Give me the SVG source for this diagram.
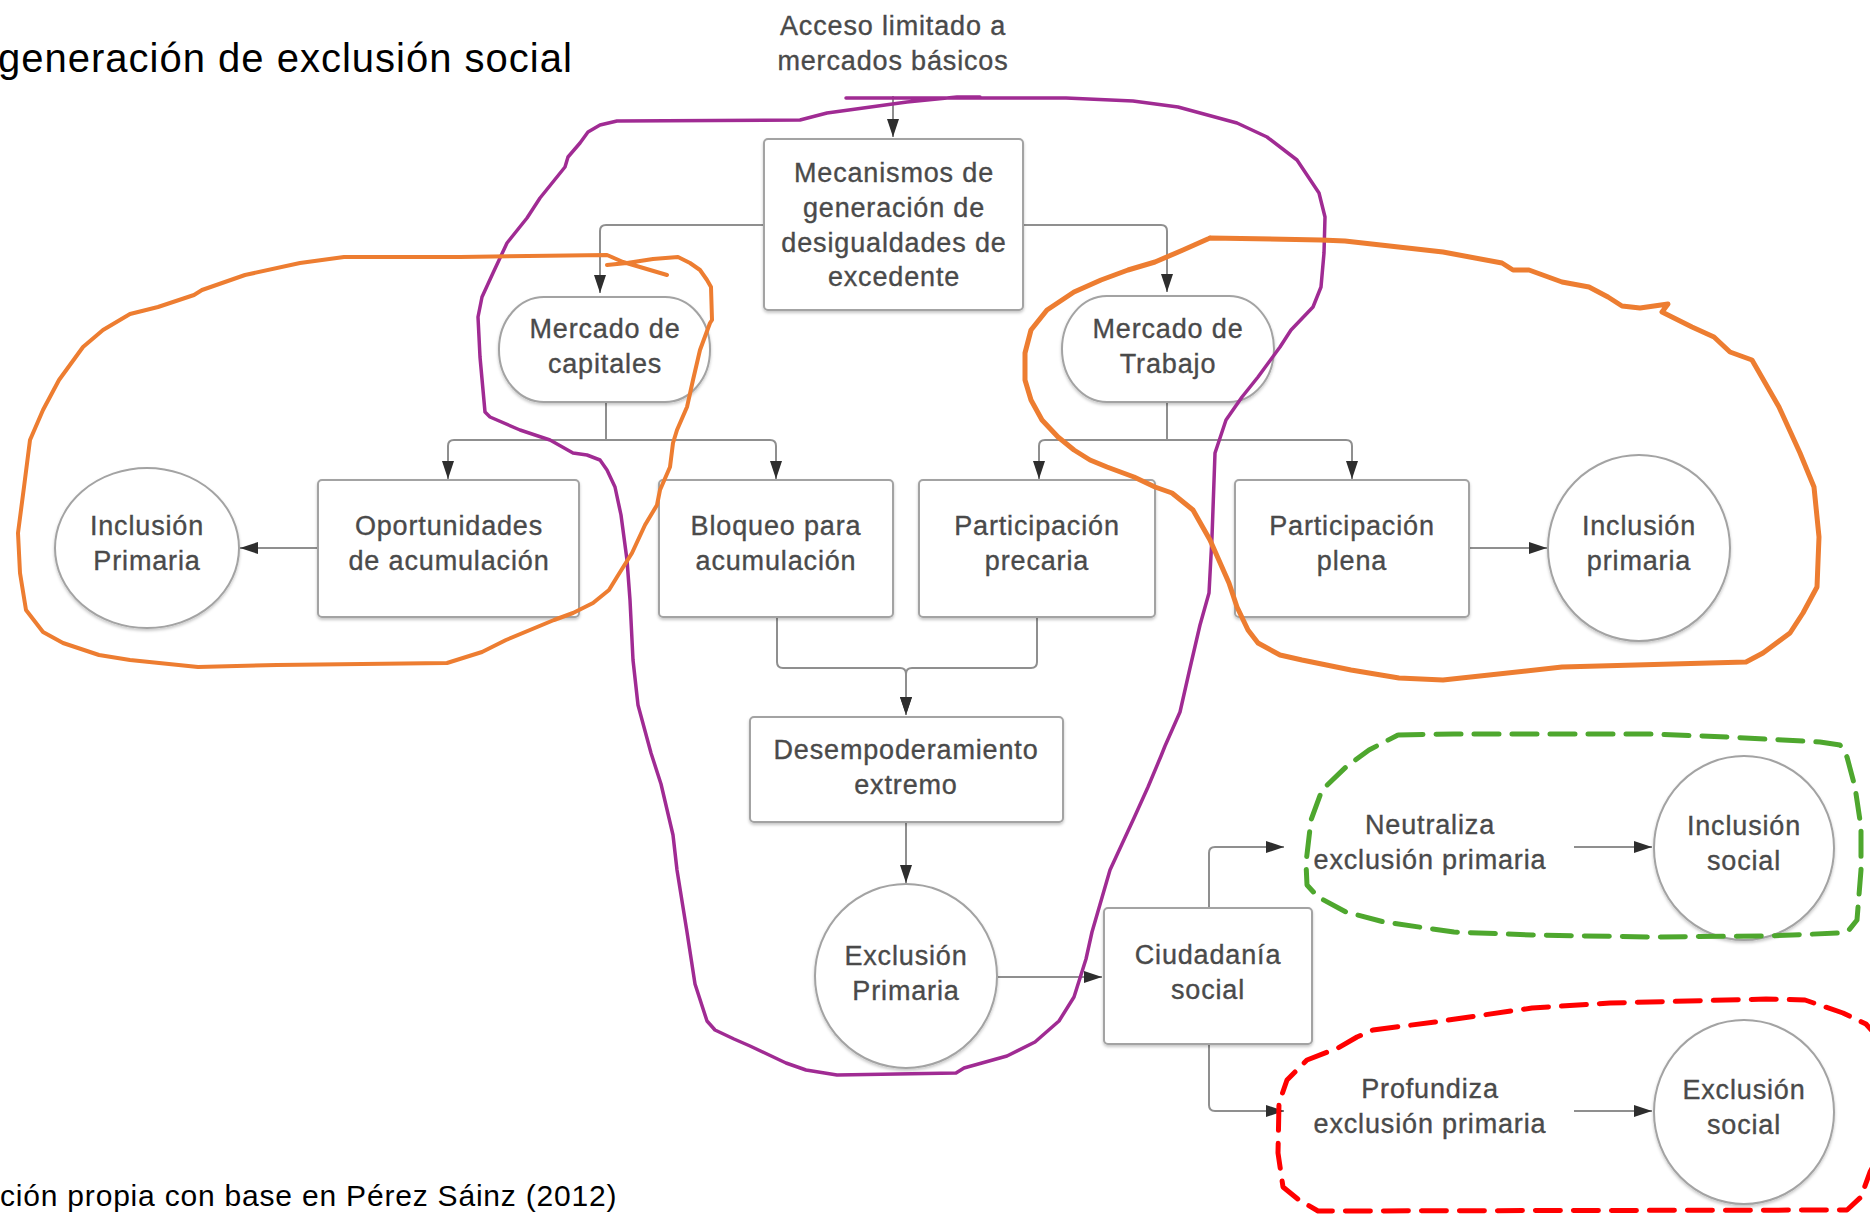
<svg xmlns="http://www.w3.org/2000/svg" width="1870" height="1214" viewBox="0 0 1870 1214">
<style>
  .lbl{font-family:"Liberation Sans",Arial,sans-serif;font-size:27px;fill:#4a4a4a;stroke:#4a4a4a;stroke-width:0.35;letter-spacing:0.85px;text-anchor:middle}
  .shape{fill:#ffffff;stroke:#a3a3a3;stroke-width:2;filter:url(#sh)}
  .conn{fill:none;stroke:#8f8f8f;stroke-width:2}
  .arr{marker-end:url(#ah)}
  .hand{fill:none;stroke-linejoin:round;stroke-linecap:round}
  .title{font-family:"Liberation Sans",Arial,sans-serif;fill:#000}
</style>
<defs>
  <filter id="sh" x="-10%" y="-10%" width="120%" height="130%">
    <feDropShadow dx="0" dy="2" stdDeviation="1.5" flood-color="#000" flood-opacity="0.22"/>
  </filter>
  <marker id="ah" markerUnits="userSpaceOnUse" markerWidth="19" markerHeight="13" refX="18" refY="6.5" orient="auto">
    <path d="M0,0.5 L18,6.5 L0,12.5 z" fill="#2e2e2e"/>
  </marker>
</defs>
<rect width="1870" height="1214" fill="#ffffff"/>

<text class="title" x="-2" y="72" font-size="40" letter-spacing="1">generación de exclusión social</text>
<text class="title" x="0" y="1206" font-size="30" letter-spacing="0.8">ción propia con base en Pérez Sáinz (2012)</text>

<g id="connectors">
  <path class="conn arr" d="M893,96 V137"/>
  <path class="conn arr" d="M764,225 H606 Q600,225 600,231 V293"/>
  <path class="conn arr" d="M1023,225 H1161 Q1167,225 1167,231 V292"/>
  <path class="conn arr" d="M606,402 V440 H454 Q448,440 448,446 V479"/>
  <path class="conn arr" d="M606,402 V440 H770 Q776,440 776,446 V479"/>
  <path class="conn arr" d="M1167,402 V440 H1045 Q1039,440 1039,446 V479"/>
  <path class="conn arr" d="M1167,402 V440 H1346 Q1352,440 1352,446 V479"/>
  <path class="conn arr" d="M318,548 H240"/>
  <path class="conn arr" d="M1469,548 H1547"/>
  <path class="conn arr" d="M777,617 V662 Q777,668 783,668 H900 Q906,668 906,674 V715"/>
  <path class="conn arr" d="M1037,617 V662 Q1037,668 1031,668 H912 Q906,668 906,674 V715"/>
  <path class="conn arr" d="M906,822 V883"/>
  <path class="conn arr" d="M998,977 H1102"/>
  <path class="conn arr" d="M1209,908 V853 Q1209,847 1215,847 H1284"/>
  <path class="conn arr" d="M1209,1044 V1105 Q1209,1111 1215,1111 H1284"/>
  <path class="conn arr" d="M1574,847 H1652"/>
  <path class="conn arr" d="M1574,1111 H1652"/>
</g>

<g id="n-acceso">
  <text class="lbl" x="893" y="35">Acceso limitado a</text>
  <text class="lbl" x="893" y="70">mercados básicos</text>
</g>
<g id="n-mecanismos">
  <rect class="shape" x="764" y="139" width="259" height="171" rx="4"/>
  <text class="lbl" x="894" y="182">Mecanismos de</text>
  <text class="lbl" x="894" y="217">generación de</text>
  <text class="lbl" x="894" y="252">desigualdades de</text>
  <text class="lbl" x="894" y="286">excedente</text>
</g>
<g id="n-capitales">
  <rect class="shape" x="499" y="297" width="211" height="105" rx="45" ry="52"/>
  <text class="lbl" x="605" y="338">Mercado de</text>
  <text class="lbl" x="605" y="373">capitales</text>
</g>
<g id="n-trabajo">
  <rect class="shape" x="1062" y="296" width="212" height="106" rx="45" ry="53"/>
  <text class="lbl" x="1168" y="338">Mercado de</text>
  <text class="lbl" x="1168" y="373">Trabajo</text>
</g>
<g id="n-inclusion-primaria-izq">
  <ellipse class="shape" cx="147" cy="548" rx="92" ry="80"/>
  <text class="lbl" x="147" y="535">Inclusión</text>
  <text class="lbl" x="147" y="570">Primaria</text>
</g>
<g id="n-oportunidades">
  <rect class="shape" x="318" y="480" width="261" height="137" rx="4"/>
  <text class="lbl" x="449" y="535">Oportunidades</text>
  <text class="lbl" x="449" y="570">de acumulación</text>
</g>
<g id="n-bloqueo">
  <rect class="shape" x="659" y="480" width="234" height="137" rx="4"/>
  <text class="lbl" x="776" y="535">Bloqueo para</text>
  <text class="lbl" x="776" y="570">acumulación</text>
</g>
<g id="n-precaria">
  <rect class="shape" x="919" y="480" width="236" height="137" rx="4"/>
  <text class="lbl" x="1037" y="535">Participación</text>
  <text class="lbl" x="1037" y="570">precaria</text>
</g>
<g id="n-plena">
  <rect class="shape" x="1235" y="480" width="234" height="137" rx="4"/>
  <text class="lbl" x="1352" y="535">Participación</text>
  <text class="lbl" x="1352" y="570">plena</text>
</g>
<g id="n-inclusion-primaria-der">
  <ellipse class="shape" cx="1639" cy="548" rx="91" ry="93"/>
  <text class="lbl" x="1639" y="535">Inclusión</text>
  <text class="lbl" x="1639" y="570">primaria</text>
</g>
<g id="n-desempoderamiento">
  <rect class="shape" x="750" y="717" width="313" height="105" rx="4"/>
  <text class="lbl" x="906" y="759">Desempoderamiento</text>
  <text class="lbl" x="906" y="794">extremo</text>
</g>
<g id="n-exclusion-primaria">
  <ellipse class="shape" cx="906" cy="976" rx="91" ry="92"/>
  <text class="lbl" x="906" y="965">Exclusión</text>
  <text class="lbl" x="906" y="1000">Primaria</text>
</g>
<g id="n-ciudadania">
  <rect class="shape" x="1104" y="908" width="208" height="136" rx="4"/>
  <text class="lbl" x="1208" y="964">Ciudadanía</text>
  <text class="lbl" x="1208" y="999">social</text>
</g>
<g id="n-neutraliza">
  <text class="lbl" x="1430" y="834">Neutraliza</text>
  <text class="lbl" x="1430" y="869">exclusión primaria</text>
</g>
<g id="n-inclusion-social">
  <ellipse class="shape" cx="1744" cy="848" rx="90" ry="92"/>
  <text class="lbl" x="1744" y="835">Inclusión</text>
  <text class="lbl" x="1744" y="870">social</text>
</g>
<g id="n-profundiza">
  <text class="lbl" x="1430" y="1098">Profundiza</text>
  <text class="lbl" x="1430" y="1133">exclusión primaria</text>
</g>
<g id="n-exclusion-social">
  <ellipse class="shape" cx="1744" cy="1112" rx="90" ry="92"/>
  <text class="lbl" x="1744" y="1099">Exclusión</text>
  <text class="lbl" x="1744" y="1134">social</text>
</g>

<g id="annotations">
  <path class="hand" stroke="#A02B93" stroke-width="3.5" d="M846,98 L954,98 L1066,98 L1133,101 L1178,107 L1237,123 L1267,137 L1297,160 L1319,193 L1325,217 L1324,253 L1321,287 L1313,307 L1291,330 L1280,347 L1258,377 L1242,397 L1226,420 L1215,453 L1212,537 L1209,593 L1200,625 L1190,668 L1180,712 L1165,746 L1161,756 L1148,787 L1134,818 L1110,870 L1092,932 L1086,959 L1074,997 L1059,1021 L1035,1042 L1007,1056 L964,1068 L956,1073 L837,1075 L806,1070 L786,1063 L750,1046 L734,1039 L715,1030 L707,1021 L695,984 L687,932 L677,870 L673,835 L661,784 L651,753 L638,705 L633,660 L630,600 L627,560 L621,515 L615,487 L607,470 L600,460 L587,455 L573,453 L550,440 L520,430 L490,417 L485,412 L480,357 L478,317 L482,297 L493,273 L507,243 L527,218 L540,198 L565,167 L568,157 L580,143 L588,132 L600,125 L617,121 L800,120 L827,113 L907,102 L957,97 L980,97"/>
  <path class="hand" stroke="#ED7D31" stroke-width="4" d="M667,275 L623,262 L607,255 L460,257 L344,257 L300,263 L245,275 L202,290 L194,295 L158,307 L130,314 L103,330 L83,347 L59,380 L43,410 L30,440 L24,487 L18,533 L20,573 L26,610 L43,632 L63,643 L99,655 L130,660 L198,667 L277,665 L447,663 L482,652 L506,640 L554,620 L573,613 L593,603 L609,590 L617,577 L632,553 L645,525 L657,505 L660,490 L670,467 L673,443 L677,430 L687,407 L693,380 L700,350 L710,323 L712,320 L711,287 L707,280 L700,270 L690,263 L678,257 L653,259 L627,263 L607,265"/>
  <path class="hand" stroke="#ED7D31" stroke-width="5" d="M1210,238 L1321,240 L1345,241 L1443,252 L1502,263 L1513,270 L1529,270 L1562,282 L1589,287 L1608,297 L1622,306 L1640,308 L1668,304 L1662,312 L1692,327 L1714,337 L1730,352 L1752,360 L1779,407 L1800,453 L1814,487 L1819,537 L1817,587 L1803,613 L1790,633 L1763,653 L1746,662 L1562,667 L1443,680 L1399,678 L1351,670 L1302,660 L1280,655 L1258,643 L1248,630 L1237,607 L1229,583 L1210,540 L1193,510 L1172,493 L1155,487 L1134,477 L1107,467 L1090,460 L1074,450 L1058,437 L1042,420 L1031,400 L1025,380 L1025,353 L1031,330 L1047,310 L1074,292 L1101,280 L1128,270 L1155,262 L1183,250 L1210,238"/>
  <path class="hand" stroke="#4EA72E" stroke-width="5" stroke-linecap="butt" stroke-dasharray="25 13" d="M1398,735 L1454,734 L1649,734 L1727,737 L1820,742 L1840,745 L1847,757 L1855,787 L1861,827 L1861,870 L1857,920 L1849,930 L1840,933 L1766,936 L1649,937 L1532,935 L1454,932 L1384,922 L1346,912 L1318,897 L1307,885 L1306,863 L1311,820 L1322,790 L1346,767 L1369,750 L1398,735"/>
  <path class="hand" stroke="#FF0000" stroke-width="5" stroke-linecap="butt" stroke-dasharray="25 13" d="M1373,1030 L1435,1022 L1532,1008 L1610,1003 L1766,999 L1805,1000 L1843,1013 L1866,1024 L1880,1040 L1882,1150 L1870,1172 L1861,1197 L1847,1210 L1318,1211 L1299,1200 L1283,1187 L1278,1153 L1279,1103 L1287,1080 L1307,1060 L1338,1048 L1357,1037 L1373,1030"/>
</g>
</svg>
